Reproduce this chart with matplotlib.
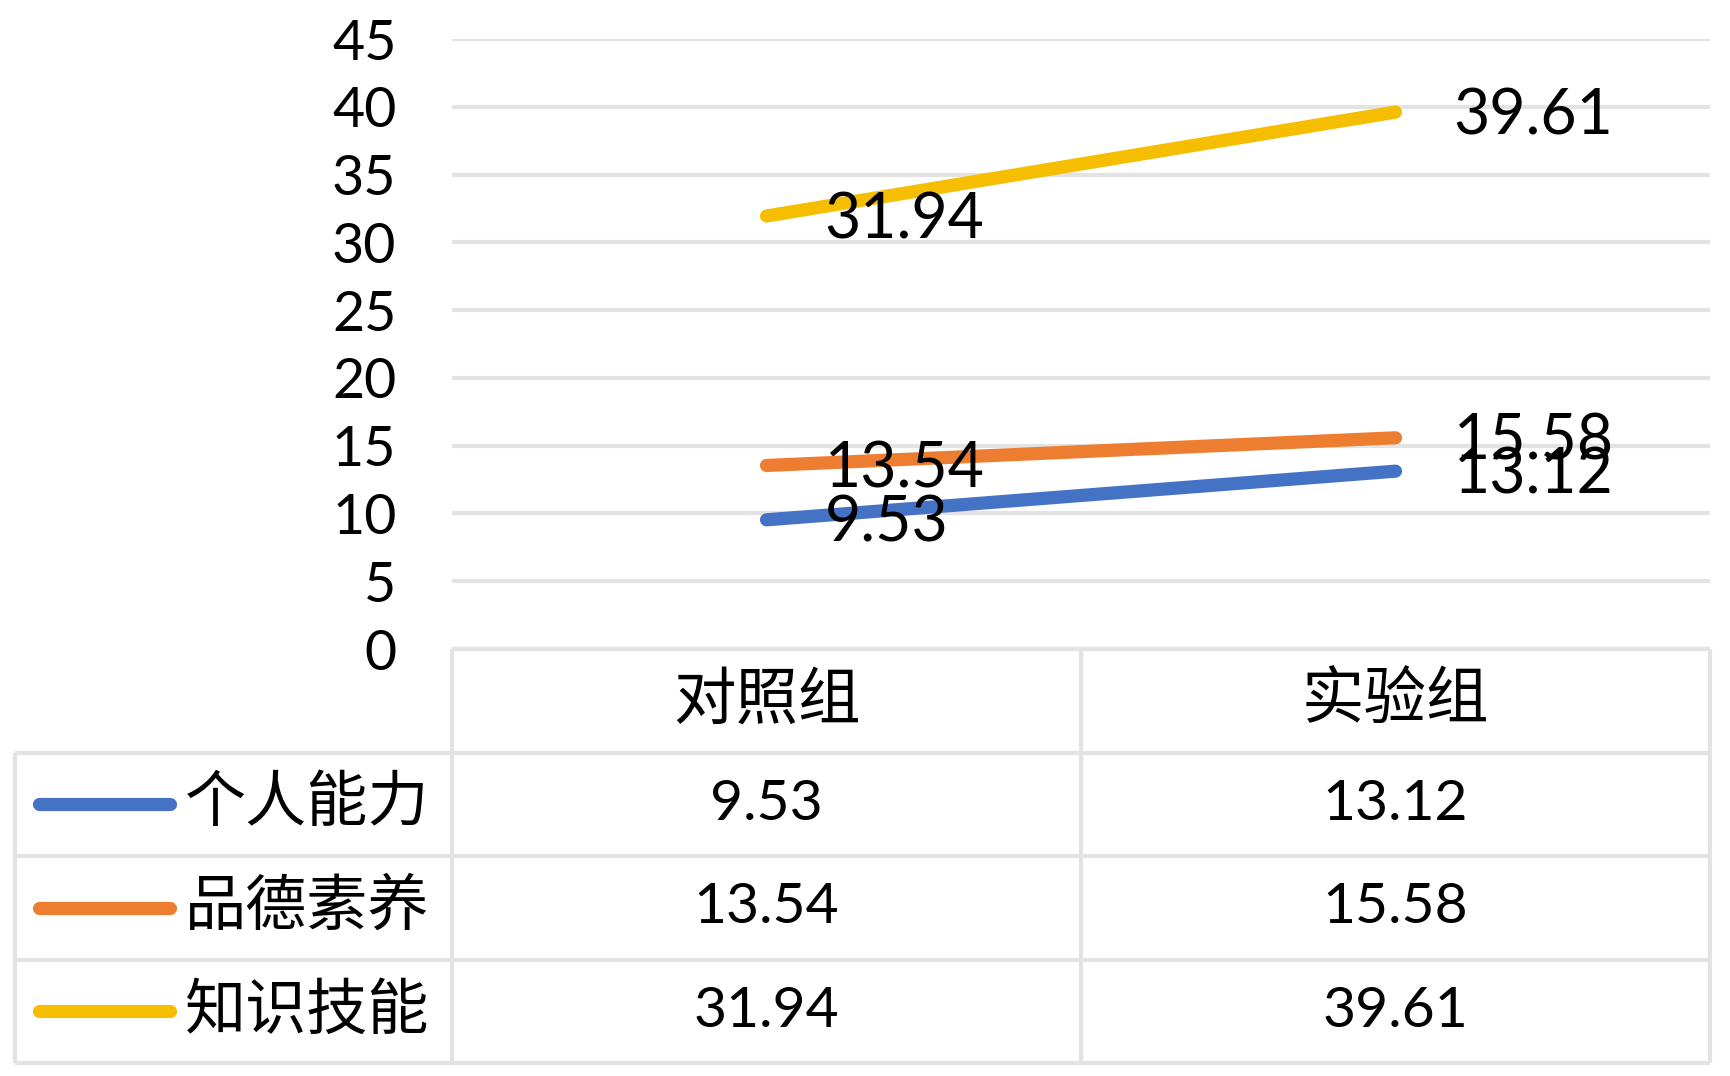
import matplotlib.pyplot as plt

plt.rcParams["font.family"] = ["Lato", "Noto Sans CJK SC", "DejaVu Sans"]

groups = ["对照组", "实验组"]
series_names = ["个人能力", "品德素养", "知识技能"]
personal = [9.53, 13.12]
morality = [13.54, 15.58]
knowledge = [31.94, 39.61]
yticks = [0, 5, 10, 15, 20, 25, 30, 35, 40, 45]

colors = ["#4472C4", "#ED7D31", "#F5BE00"]
grid_color = "#e3e3e3"
W, H = 1730, 1076

fig = plt.figure(figsize=(W / 100, H / 100), dpi=100)

# chart area in pixels: x 452..1710, y 39..649
ax = fig.add_axes([452 / W, 1 - 649 / H, (1710 - 452) / W, (649 - 39) / H])
ax.set_xlim(-0.5, 1.5)
ax.set_ylim(0, 45)
ax.set_yticks(yticks)
ax.set_xticks([])
ax.tick_params(axis="y", length=0, pad=40, labelsize=40)
ax.yaxis.grid(True, color=grid_color, linewidth=3)
ax.set_axisbelow(True)
for s in ax.spines.values():
    s.set_visible(False)

x = list(range(len(groups)))
all_series = [personal, morality, knowledge]
for vals, c in zip(all_series, colors):
    ax.plot(x, vals, color=c, linewidth=9.5, solid_capstyle="round", zorder=3)
    for xi, v in zip(x, vals):
        ax.annotate(f"{v:.2f}", (xi, v), xytext=(42, -3), textcoords="offset points",
                    ha="left", va="center", fontsize=45, color="black", zorder=4,
                    annotation_clip=False)

# data table below the chart, sharing the x scale
left_x = -0.5 - (452 - 15) / 629
tb = fig.add_axes([15 / W, 1 - 1063 / H, (1710 - 15) / W, (1063 - 649) / H])
tb.set_xlim(left_x, 1.5)
tb.set_ylim(4, 0)
tb.axis("off")

lk = dict(color=grid_color, linewidth=3, clip_on=False)
tb.hlines(0, -0.5, 1.5, **lk)
tb.hlines([1, 2, 3, 4], left_x, 1.5, **lk)
tb.vlines([-0.5, 0.5, 1.5], 0, 4, **lk)
tb.vlines(left_x, 1, 4, **lk)

for xi, g in zip(x, groups):
    tb.text(xi, 0.5, g, ha="center", va="center", fontsize=45,
            family=["Noto Sans CJK SC"])

for r, (name, vals, c) in enumerate(zip(series_names, all_series, colors)):
    yc = r + 1.5
    tb.plot([-1.156, -0.948], [yc, yc], color=c, linewidth=9.5,
            solid_capstyle="round", clip_on=False)
    tb.text(-0.925, yc, name, ha="left", va="center", fontsize=44,
            family=["Noto Sans CJK SC"])
    for xi, v in zip(x, vals):
        tb.text(xi, yc, f"{v:.2f}", ha="center", va="center", fontsize=41)

fig.savefig("out.png", dpi=100)
